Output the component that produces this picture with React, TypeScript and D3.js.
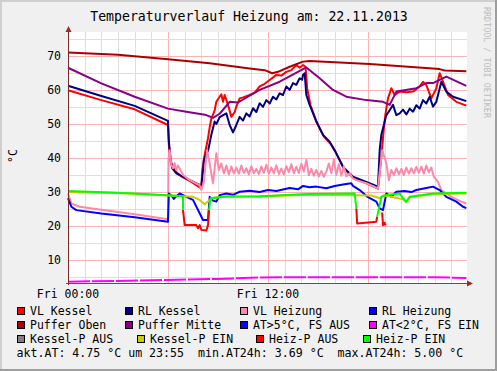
import React, { useRef, useEffect } from 'react';
import * as d3 from 'd3';

type Pt = [number, number] | null;

// hours since Fri 00:00 -> °C
const pufferOben: Pt[] = [
  [0, 71.0], [3, 70.3], [6, 69.0], [8.5, 67.8], [10.9, 66.3], [11.8, 65.8], [12.25, 64.9],
  [12.6, 65.3], [13.3, 66.8], [14.1, 68.3], [14.5, 68.5], [18.1, 67.6], [22.3, 66.1],
  [22.6, 65.7], [23.9, 65.5],
];

const pufferMitte: Pt[] = [
  [0, 66.5], [2, 61.9], [4, 58.0], [6, 54.5], [7.1, 53.6], [8.3, 52.6], [8.7, 51.8], [9.1, 53.0],
  [9.7, 56.5], [10.2, 56.3], [10.9, 58.3], [11.5, 60.0], [12.7, 62.4], [14.3, 66.6], [15.1, 63.4],
  [15.9, 60.0], [16.7, 58.0], [17.9, 57.0], [18.9, 56.5], [19.3, 55.6], [19.7, 59.5], [20.9, 60.5],
  [21.5, 62.0], [21.9, 62.0], [22.7, 63.9], [23.9, 61.2],
];

const vlKessel: Pt[] = [
  [0, 59.9], [2, 57.0], [4, 54.3], [6, 49.7], [6.05, 44], [6.15, 39], [6.4, 36.3], [6.8, 34.6],
  [7.4, 33.0], [7.9, 31.4], [8.0, 31.2], [8.05, 36], [8.2, 40.9], [8.4, 45.8], [8.5, 49], [8.6, 51.6],
  [8.8, 54], [8.9, 56.5], [9.1, 58], [9.2, 58.7], [9.3, 56.5], [9.4, 58.5], [9.6, 55.6], [9.8, 52.1],
  [10.0, 53.5], [10.1, 55.1], [10.3, 57.5], [10.5, 57.8], [10.9, 58.5], [11.2, 59.2], [11.5, 61],
  [11.8, 61.8], [12.1, 62.9], [12.5, 64.4], [12.8, 64.2], [13.1, 65.3], [13.4, 65.8], [13.7, 67.3],
  [13.9, 66.5], [14.1, 67.3], [14.25, 66.8], [14.35, 60.5], [14.55, 55.5], [14.95, 50.2], [15.35, 46.3],
  [15.75, 44.2], [16.05, 41.8], [16.55, 37.0], [17.15, 34.0], [17.95, 32.5], [18.6, 31.0], [18.75, 38],
  [18.85, 43], [18.95, 48.7], [19.05, 53], [19.2, 57.5], [19.4, 60.5], [19.6, 58.5], [19.9, 59.5],
  [20.3, 59.3], [20.7, 59.5], [21.1, 61], [21.3, 62.4], [21.5, 61.4], [21.8, 57.5], [22.1, 60.5],
  [22.3, 64.9], [22.5, 62.4], [22.8, 58.5], [23.3, 56.5], [23.9, 55.4],
];

const rlKessel: Pt[] = [
  [0, 61.2], [2, 58.2], [4, 55.3], [6, 50.9], [6.05, 45], [6.15, 40], [6.25, 37], [6.5, 35.5],
  [7.1, 34], [7.9, 32.1], [8.0, 32], [8.1, 36], [8.15, 39.4], [8.3, 41.4], [8.4, 42], [8.6, 46.8],
  [8.8, 50.7], [8.9, 50], [9.1, 52], [9.5, 53.1], [9.7, 49.7], [9.9, 47.5], [10.1, 49.7], [10.3, 52.1],
  [10.5, 51], [10.7, 53.1], [10.9, 52.2], [11.1, 54.6], [11.3, 53.5], [11.5, 56.1], [11.7, 55],
  [11.9, 57], [12.1, 56], [12.3, 58], [12.5, 57.2], [12.7, 59], [12.9, 58.5], [13.1, 61], [13.3, 60],
  [13.5, 62], [13.7, 61.5], [13.9, 63.4], [14.05, 63], [14.1, 64.4], [14.2, 64.9], [14.3, 58.5],
  [14.5, 55.6], [14.9, 50.7], [15.3, 46.8], [15.7, 44.8], [16.0, 42.3], [16.5, 37.4], [17.1, 34.5],
  [17.9, 33], [18.6, 31.6], [18.7, 42.3], [18.8, 46.8], [19.1, 52.6], [19.3, 54], [19.5, 55.6],
  [19.7, 52.6], [19.9, 53.1], [20.1, 54.2], [20.3, 52.8], [20.5, 54.5], [20.7, 53.6], [20.9, 55.5],
  [21.1, 54.5], [21.3, 57], [21.5, 56], [21.7, 58], [21.9, 55.1], [22.1, 56.5], [22.4, 62.4],
  [22.7, 59.5], [23.1, 58], [23.9, 56.7],
];

const vlHeizung: Pt[] = [
  [0, 29.6], [0.2, 26.7], [0.7, 25.7], [2, 24.8], [4, 23.5], [6, 22.0], [6.03, 40], [6.1, 42.3],
  [6.2, 38], [6.3, 37], [6.4, 38.5], [6.5, 36.5], [6.6, 37.8], [6.75, 36.5], [6.9, 35], [7.3, 33.5],
  [7.9, 32], [8.0, 30.6], [8.15, 33], [8.25, 38], [8.35, 42.3], [8.5, 38.4], [8.7, 32.6], [8.8, 37],
  [8.9, 41.4], [9.05, 36.5], [9.2, 38.4], [9.35, 35.5], [9.5, 37.8], [9.65, 35.2], [9.8, 37.5],
  [9.95, 35.5], [10.1, 37.2], [10.25, 35.4], [10.4, 37.8], [10.55, 35.6], [10.7, 37], [10.85, 35.2],
  [11.0, 37.6], [11.15, 35.5], [11.3, 36.8], [11.45, 35.3], [11.6, 37.5], [11.75, 35.6], [11.9, 38],
  [12.05, 35.4], [12.2, 37.2], [12.35, 35.5], [12.5, 37.8], [12.65, 35.3], [12.8, 36.9], [12.95, 35.2],
  [13.1, 37.6], [13.25, 35.8], [13.4, 38.2], [13.55, 35.5], [13.7, 37.4], [13.85, 35.6], [14.0, 38.3],
  [14.15, 36], [14.3, 39.4], [14.45, 35], [14.6, 36.8], [14.75, 34.8], [14.9, 36.5], [15.05, 34.6],
  [15.2, 36.2], [15.35, 34.5], [15.5, 36], [15.65, 38.4], [15.8, 35.5], [15.95, 39.6], [16.1, 35],
  [16.25, 38.2], [16.4, 34.8], [16.55, 37.6], [16.7, 34.6], [16.9, 35.5], [17.1, 34], [17.3, 33.5],
  [17.9, 32.6], [18.6, 31.1], [18.75, 38], [18.85, 42.3], [19.0, 40], [19.1, 38.4], [19.25, 33.5],
  [19.4, 36.5], [19.55, 35], [19.7, 37], [19.85, 35.2], [20.0, 36.8], [20.15, 35], [20.3, 37.2],
  [20.45, 35.4], [20.6, 37], [20.75, 35.5], [20.9, 37.4], [21.05, 35.6], [21.2, 37.5], [21.35, 35.4],
  [21.5, 37.8], [21.65, 35.8], [21.8, 37.2], [21.95, 34.5], [22.2, 33], [22.4, 30.6], [23, 28.6],
  [23.6, 27.2], [23.9, 26.7],
];

const rlHeizung: Pt[] = [
  [0, 28.2], [0.2, 25.7], [0.5, 24.7], [2, 23.7], [4, 22.6], [6, 21.3], [6.05, 29.6], [6.2, 29],
  [6.35, 28], [6.5, 28.8], [6.7, 29.6], [7.1, 28.6], [7.5, 27.7], [7.9, 23.8], [8.1, 21.8], [8.4, 21.8],
  [8.5, 28.6], [8.7, 27.5], [8.9, 27.2], [9.1, 29.1], [9.5, 29.6], [9.9, 29.2], [10.3, 30.1],
  [10.9, 30.4], [11.5, 30.0], [12.0, 30.6], [12.5, 30.3], [13.3, 31.2], [13.8, 30.8], [14.1, 31.8],
  [14.5, 31.4], [14.9, 31.6], [15.5, 31.1], [16, 31.8], [16.5, 32.2], [17.0, 32.6], [17.1, 31.8],
  [17.5, 30.6], [18.0, 28.5], [18.5, 27.2], [18.7, 25.2], [18.9, 24.7], [19.1, 29.6], [19.4, 28.6],
  [19.7, 30.1], [20.2, 30.3], [20.6, 30.0], [20.9, 30.6], [21.5, 31.2], [21.9, 31.6], [22.3, 30.6],
  [22.7, 28.6], [23.3, 27.2], [23.7, 25.7], [23.9, 25.3],
];

const aussenTemp: Pt[] = [
  [0, 3.7], [3, 3.9], [6, 4.2], [9, 4.5], [11.5, 4.9], [14, 5.0], [18, 5.0], [22, 5.0], [23.9, 4.75],
];

const kesselPEin: Pt[] = [
  [0, 30.0], [3, 29.7], [6, 29.0], [7.5, 28.6], [7.9, 27.7], [8.2, 26.4], [8.5, 27.7], [8.7, 28.3],
  [9.5, 28.6], [11.5, 28.7], [14.4, 29.2], [17.2, 29.1], [18.2, 29.0], [18.7, 28.2], [19.0, 29.0],
  [20.1, 27.9], [20.3, 27.0], [20.5, 28.5], [21.9, 29.4], [23.9, 29.6],
];

const heizPEin: Pt[] = [
  [0, 30.3], [3, 29.8], [6, 29.1], [6.9, 28.8], [6.9, 24.8], null,
  [8.46, 24.7], [8.55, 28.2], [9.5, 28.7], [11.5, 28.8], [14.4, 29.4], [17.2, 29.6], [17.3, 25.2], null,
  [18.55, 22.8], [18.7, 26.2], [18.8, 28.6], [19.0, 29.1], [19.9, 29.6], [20.1, 28.2], [20.3, 27.2],
  [20.5, 28.6], [21.9, 29.6], [23.9, 29.8],
];

const heizPAus: Pt[] = [
  [6.9, 24.8], [7.0, 20.3], [7.7, 20.3], [7.8, 19.4], [7.9, 20.3], [8.0, 18.9], [8.3, 18.7],
  [8.4, 20.3], [8.46, 24.7], null,
  [17.3, 25.2], [17.35, 20.8], [18.5, 21.3], [18.55, 22.8], null,
  [18.85, 24], [18.9, 20.3], [19.0, 21], [19.05, 20.2],
];

const legendRows = [
  ['VL Kessel', 'RL Kessel', 'VL Heizung', 'RL Heizung'],
  ['Puffer Oben', 'Puffer Mitte', 'AT>5°C, FS AUS', 'AT<2°C, FS EIN'],
  ['Kessel-P AUS', 'Kessel-P EIN', 'Heiz-P AUS', 'Heiz-P EIN'],
];
const legendColors = [
  ['#ff0000', '#000080', '#ff88aa', '#0000ff'],
  ['#aa0000', '#880088', '#0000ff', '#ff00ff'],
  ['#808080', '#cccc00', '#ff0000', '#00ff00'],
];
const legendTextX = [
  [30, 138, 253, 382],
  [30, 138, 253, 382],
  [30, 150, 269, 376],
];
const statusLine = 'akt.AT: 4.75 °C um 23:55  min.AT24h: 3.69 °C  max.AT24h: 5.00 °C';

const yTicks = [10, 20, 30, 40, 50, 60, 70];
const xLabels = ['Fri 00:00', 'Fri 12:00'];
const xLabelHours = [0, 12];

const W = 497;
const H = 371;
const FONT = "'DejaVu Sans Mono', monospace";

export default function App() {
  const svgRef = useRef<SVGSVGElement>(null);

  useEffect(() => {
    if (!svgRef.current) return;
    const svg = d3.select(svgRef.current);
    svg.selectAll('*').remove();

    const left = 68, right = 468, top = 32, bottom = 283;
    const x = d3.scaleLinear().domain([0, 24]).range([left, right]);
    const y = d3.scaleLinear().domain([3.3, 77]).range([bottom, top]);

    // background + 3d frame
    svg.append('rect').attr('width', W).attr('height', H).attr('fill', '#f0f0f0');
    svg.append('path').attr('d', `M0,${H} V0 H${W}`).attr('fill', 'none')
      .attr('stroke', '#cfcfcf').attr('stroke-width', 4);
    svg.append('path').attr('d', `M0,${H} H${W} V0`).attr('fill', 'none')
      .attr('stroke', '#9e9e9e').attr('stroke-width', 4);

    svg.append('rect').attr('x', left).attr('y', top)
      .attr('width', right - left - 1).attr('height', bottom - top).attr('fill', '#fff');

    const grid = svg.append('g').attr('shape-rendering', 'crispEdges');
    d3.range(1, 24).forEach(h => {
      grid.append('line')
        .attr('x1', Math.round(x(h)) + 0.5).attr('x2', Math.round(x(h)) + 0.5)
        .attr('y1', top).attr('y2', bottom)
        .attr('stroke', h % 6 === 0 ? '#f9b5b5' : '#dedede');
    });
    d3.range(5, 77, 5).forEach(v => {
      grid.append('line')
        .attr('x1', left).attr('x2', right - 1)
        .attr('y1', Math.round(y(v)) + 0.5).attr('y2', Math.round(y(v)) + 0.5)
        .attr('stroke', v % 10 === 0 ? '#f9b5b5' : '#dedede');
    });

    const line = d3.line<Pt>()
      .defined(d => d !== null)
      .x(d => x(d![0]))
      .y(d => y(d![1]));

    const draw = (data: Pt[], color: string, dash?: string) => {
      const p = svg.append('path')
        .datum(data)
        .attr('d', line)
        .attr('fill', 'none')
        .attr('stroke', color)
        .attr('stroke-width', 2)
        .attr('stroke-linejoin', 'round');
      if (dash) p.attr('stroke-dasharray', dash);
    };

    draw(vlKessel, '#ff0000');
    draw(rlKessel, '#000080');
    draw(vlHeizung, '#ff88aa');
    draw(rlHeizung, '#0000ff');
    draw(pufferOben, '#aa0000');
    draw(pufferMitte, '#880088');
    draw(aussenTemp, '#ff00ff', '22,2');
    draw(kesselPEin, '#cccc00');
    draw(heizPAus, '#ff0000');
    draw(heizPEin, '#00ff00');

    // axes
    const ax = svg.append('g').attr('shape-rendering', 'crispEdges');
    ax.append('line').attr('x1', left + 0.5).attr('x2', left + 0.5)
      .attr('y1', bottom + 2).attr('y2', 30).attr('stroke', '#7a2a2a');
    ax.append('line').attr('x1', left - 2).attr('x2', right + 2)
      .attr('y1', bottom + 0.5).attr('y2', bottom + 0.5).attr('stroke', '#555');
    svg.append('path').attr('d', `M${left + 0.5},26 l-3,6 h6 z`).attr('fill', '#a02828');
    svg.append('path').attr('d', `M${right + 5},${bottom + 0.5} l-6,-3 v6 z`).attr('fill', '#a02828');

    // tick labels
    yTicks.forEach(v => {
      svg.append('text')
        .attr('x', 61).attr('y', y(v)).attr('dy', '0.35em')
        .attr('text-anchor', 'end')
        .style('font-family', FONT).style('font-size', '11.5px')
        .text(v);
    });
    xLabels.forEach((t, i) => {
      svg.append('text')
        .attr('x', x(xLabelHours[i])).attr('y', 294).attr('dy', '0.35em')
        .attr('text-anchor', 'middle')
        .style('font-family', FONT).style('font-size', '11.5px')
        .text(t);
    });

    // title, unit, watermark
    svg.append('text')
      .attr('x', 249).attr('y', 16.5).attr('dy', '0.35em')
      .attr('text-anchor', 'middle')
      .style('font-family', FONT).style('font-size', '13.2px')
      .text('Temperaturverlauf Heizung am: 22.11.2013');
    svg.append('text')
      .attr('transform', 'translate(13,156) rotate(-90)')
      .attr('dy', '0.35em').attr('text-anchor', 'middle')
      .style('font-family', FONT).style('font-size', '11.5px')
      .text('°C');
    svg.append('text')
      .attr('transform', 'translate(487,7) rotate(90)')
      .attr('dy', '0.35em')
      .attr('fill', '#bdbdbd')
      .style('font-family', FONT).style('font-size', '8.4px')
      .text('RRDTOOL / TOBI OETIKER');

    // legend
    legendRows.forEach((row, r) => {
      const cy = 311 + r * 14;
      row.forEach((label, c) => {
        const tx = legendTextX[r][c];
        svg.append('rect')
          .attr('x', tx - 12.5).attr('y', cy - 3.5)
          .attr('width', 7).attr('height', 7)
          .attr('fill', legendColors[r][c])
          .attr('stroke', '#000').attr('stroke-width', 1);
        svg.append('text')
          .attr('x', tx).attr('y', cy).attr('dy', '0.35em')
          .style('font-family', FONT).style('font-size', '11.5px')
          .text(label);
      });
    });
    svg.append('text')
      .attr('x', 16.5).attr('y', 353).attr('dy', '0.35em')
      .style('font-family', FONT).style('font-size', '11.6px')
      .style('white-space', 'pre')
      .attr('xml:space', 'preserve')
      .text(statusLine);
  }, []);

  return (
    <svg
      ref={svgRef}
      width={W}
      height={H}
      style={{ position: 'absolute', left: 0, top: 0, display: 'block' }}
    />
  );
}
